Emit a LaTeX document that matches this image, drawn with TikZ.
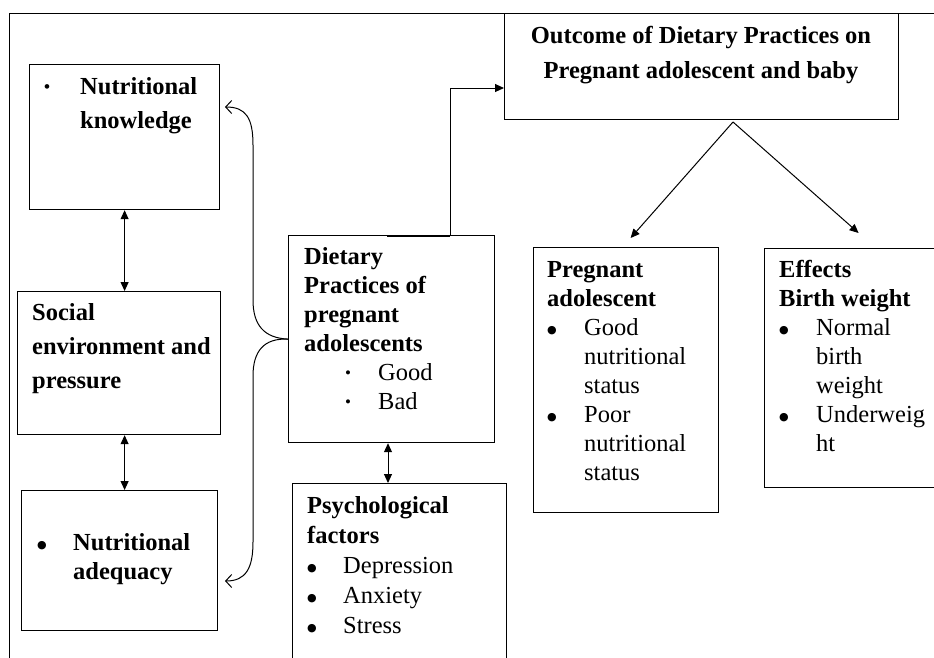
\documentclass[tikz,border=0pt]{standalone}
\usepackage{fontspec}
\setmainfont{Liberation Serif}
\newfontfamily\djv{DejaVu Sans}
\usetikzlibrary{arrows.meta}
\newcommand\fs{\fontsize{24.5}{29}\selectfont}
\newcommand\sbul{\raisebox{1.5pt}{\fontsize{17}{17}\selectfont •}}
\newcommand\bbul{\raisebox{2pt}{\djv\fontsize{11}{11}\selectfont ●}}
\newcommand\bl[2]{\hbox{\hbox to #1{\bbul\hss}#2}}
\newcommand\sbl[2]{\hbox{\hbox to #1{\sbul\hss}#2}}
\newcommand\ind[2]{\hbox{\hskip#1 #2}}
\begin{document}
\begin{tikzpicture}[x=1pt,y=-1pt,font=\fs,
  box/.style={draw, line width=1.2pt, rectangle, inner sep=0pt, anchor=north west},
  txt/.style={anchor=base west, inner sep=0pt},
  ctxt/.style={anchor=base, inner sep=0pt},
  arr/.style={-{Triangle[length=9pt,width=8pt]}, line width=1pt},
  darr/.style={{Triangle[length=9pt,width=8pt]}-{Triangle[length=9pt,width=8pt]}, line width=1pt},
  openarr/.style={-{Straight Barb[length=6pt,width=13pt]}, line width=1pt}]
\useasboundingbox (0,0) rectangle (934,657);
% frame
\coordinate (f1) at (9,670);
\coordinate (f2) at (9,13);
\coordinate (f3) at (940,13);
\draw[line width=1pt] (f1) -- (f2) -- (f3);
% boxes
\node[box, minimum width=190pt, minimum height=145pt] (nk) at (29,64) {};
\node[box, minimum width=203pt, minimum height=143pt] (sc) at (17,291) {};
\node[box, minimum width=196pt, minimum height=140pt] (na) at (21,490) {};
\node[box, minimum width=206pt, minimum height=207pt] (dp) at (288,235) {};
\node[box, minimum width=214pt, minimum height=200pt] (ps) at (292,483) {};
\node[box, minimum width=394pt, minimum height=106pt] (oc) at (504,13) {};
\node[box, minimum width=185pt, minimum height=265pt] (pa) at (533,247) {};
\node[box, minimum width=200pt, minimum height=239pt] (ef) at (764,248) {};
% texts
\node[txt] (nkt) at (44,94) {\bfseries\vtop{\baselineskip=34pt
  \sbl{36pt}{Nutritional}\ind{36pt}{knowledge}}};
\node[txt] (sct) at (32,320) {\bfseries\vtop{\baselineskip=34pt
  \hbox{Social}\hbox{environment and}\hbox{pressure}}};
\node[txt] (nat) at (37,550) {\bfseries\vtop{\baselineskip=29pt
  \bl{36pt}{Nutritional}\ind{36pt}{adequacy}}};
\node[txt] (dpt) at (304,264) {\vtop{\baselineskip=29pt
  \hbox{\bfseries Dietary}\hbox{\bfseries Practices of}\hbox{\bfseries pregnant}\hbox{\bfseries adolescents}
  \ind{41pt}{\sbl{33pt}{Good}}\ind{41pt}{\sbl{33pt}{Bad}}}};
\node[txt] (pst) at (307,513) {\vtop{\baselineskip=30pt
  \hbox{\bfseries Psychological}\hbox{\bfseries factors}
  \bl{36pt}{Depression}\bl{36pt}{Anxiety}\bl{36pt}{Stress}}};
\node[ctxt] (oct1) at (701,43) {\bfseries Outcome of Dietary Practices on};
\node[ctxt] (oct2) at (701,78) {\bfseries Pregnant adolescent and baby};
\node[txt] (pat) at (547,277) {\vtop{\baselineskip=29pt
  \hbox{\bfseries Pregnant}\hbox{\bfseries adolescent}
  \bl{37pt}{Good}\ind{37pt}{nutritional}\ind{37pt}{status}
  \bl{37pt}{Poor}\ind{37pt}{nutritional}\ind{37pt}{status}}};
\node[txt] (eft) at (779,277) {\vtop{\baselineskip=29pt
  \hbox{\bfseries Effects}\hbox{\bfseries Birth weight}
  \bl{37pt}{Normal}\ind{37pt}{birth}\ind{37pt}{weight}
  \bl{37pt}{Underweig}\ind{37pt}{ht}}};
% double arrows
\draw[darr] (nk.south) -- (nk.south |- sc.north);
\draw[darr] (nk.south |- sc.south) -- (nk.south |- na.north);
\coordinate (dx) at (388,0);
\draw[darr] (dp.south -| dx) -- (ps.north -| dx);
% connector to outcome
\coordinate (dk) at (387,0);
\coordinate (dj) at (450,88);
\draw[arr] (dp.north -| dk) -- (dp.north -| dj) -- (dj) -- (dj -| oc.west);
\draw[line width=2.2pt] ([yshift=-0.6pt]dp.north -| dk) -- ([yshift=-0.6pt]dp.north -| dj);
% outcome to children
\coordinate (os) at (733,122);
\draw[arr] (os) -- ([xshift=4.5pt,yshift=9pt]pa.north);
\draw[arr] (os) -- ([xshift=-6pt,yshift=15pt]ef.north);
% brace
\coordinate (bt) at (225,107);
\coordinate (bb) at (225,581);
\draw[openarr] (dp.west) .. controls (264,338) and (253,325) .. (253,300)
  -- (253,145) .. controls (253,118) and (246,107) .. (bt);
\draw[openarr] (dp.west) .. controls (264,338) and (253,351) .. (253,376)
  -- (253,542) .. controls (253,568) and (246,581) .. (bb);
\end{tikzpicture}
\end{document}
